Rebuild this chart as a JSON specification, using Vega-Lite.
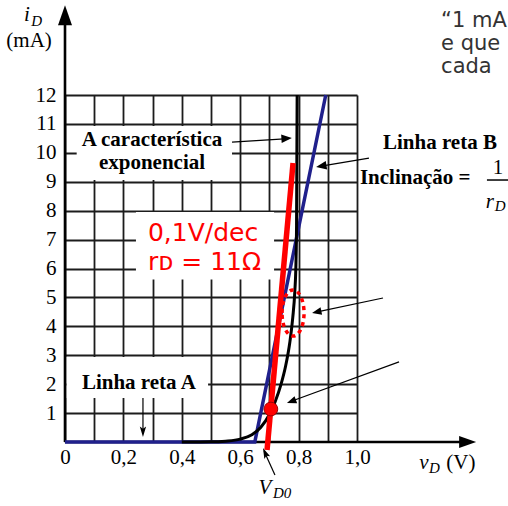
{
  "$schema": "https://vega.github.io/schema/vega-lite/v6.json",
  "width": 292,
  "height": 347,
  "autosize": {"type": "none"},
  "padding": {"left": 65, "top": 95, "right": 151, "bottom": 64},
  "background": "white",
  "config": {"view": {"stroke": null}},
  "encoding": {
    "x": {
      "field": "x", "type": "quantitative",
      "scale": {"domain": [0, 1], "nice": false, "zero": false},
      "axis": {
        "values": [0, 0.1, 0.2, 0.3, 0.4, 0.5, 0.6, 0.7, 0.8, 0.9, 1.0],
        "grid": true, "gridColor": "#1c1c1c", "gridWidth": 1.8,
        "domain": false, "ticks": false, "title": null,
        "labelExpr": "round(datum.value*10) % 2 != 0 ? '' : (datum.value == 0 ? '0' : replace(format(datum.value, '.1f'), '.', ','))",
        "labelFont": "Liberation Serif", "labelFontSize": 21, "labelColor": "#000",
        "labelPadding": 4, "labelFlush": false, "labelOverlap": false, "zindex": 0
      }
    },
    "y": {
      "field": "y", "type": "quantitative",
      "scale": {"domain": [0, 12], "nice": false, "zero": false},
      "axis": {
        "values": [1, 2, 3, 4, 5, 6, 7, 8, 9, 10, 11, 12],
        "grid": true, "gridColor": "#1c1c1c", "gridWidth": 1.8,
        "domain": false, "ticks": false, "title": null,
        "labelFont": "Liberation Serif", "labelFontSize": 21, "labelColor": "#000",
        "labelPadding": 9, "labelFlush": false, "labelOverlap": false, "zindex": 0
      }
    }
  },
  "layer": [
    {
      "data": {"values": [
        {"x": 0.04, "x2": 0.572, "y": 9.06, "y2": 10.93},
        {"x": 0.243, "x2": 0.716, "y": 5.62, "y2": 7.95},
        {"x": 0.005, "x2": 0.49, "y": 1.52, "y2": 2.94}
      ]},
      "mark": {"type": "rect", "fill": "white", "stroke": null},
      "encoding": {"x2": {"field": "x2"}, "y2": {"field": "y2"}}
    },
    {
      "data": {"values": [
        {"x": 0, "y": 0, "x2": 1.39, "y2": 0},
        {"x": 0, "y": 0, "x2": 0, "y2": 14.6}
      ]},
      "mark": {"type": "rule", "color": "#000", "strokeWidth": 2.6},
      "encoding": {"x2": {"field": "x2"}, "y2": {"field": "y2"}}
    },
    {
      "data": {"values": [{"x": 1.408, "y": 0}]},
      "mark": {"type": "point", "shape": "M0,0L-2,-0.7L-2,0.7Z", "size": 289, "filled": true, "color": "#000", "opacity": 1}
    },
    {
      "data": {"values": [{"x": 0, "y": 15.1}]},
      "mark": {"type": "point", "shape": "M0,0L-0.7,2L0.7,2Z", "size": 400, "filled": true, "color": "#000", "opacity": 1}
    },
    {
      "data": {"values": [
        {"x": 0, "y": 0}, {"x": 0.65, "y": 0}, {"x": 0.893, "y": 12}
      ]},
      "mark": {"type": "line", "color": "#20208c", "strokeWidth": 3.5}
    },
    {
      "data": {"values": [
        {"x": 0.4, "y": 0}, {"x": 0.5, "y": 0.005}, {"x": 0.55, "y": 0.03},
        {"x": 0.6, "y": 0.1}, {"x": 0.64, "y": 0.25}, {"x": 0.67, "y": 0.5},
        {"x": 0.7, "y": 0.95}, {"x": 0.72, "y": 1.4}, {"x": 0.74, "y": 2.0},
        {"x": 0.755, "y": 2.6}, {"x": 0.77, "y": 3.45}, {"x": 0.78, "y": 4.3},
        {"x": 0.787, "y": 5.2}, {"x": 0.791, "y": 6.2}, {"x": 0.793, "y": 7.5},
        {"x": 0.795, "y": 12}
      ]},
      "mark": {"type": "line", "color": "#000", "strokeWidth": 3, "interpolate": "monotone"}
    },
    {
      "data": {"values": [{"x": 0.692, "y": -0.28}, {"x": 0.781, "y": 9.65}]},
      "mark": {"type": "line", "color": "#ff0000", "strokeWidth": 5.5}
    },
    {
      "data": {"values": [{"x": 0.705, "y": 1.14}]},
      "mark": {"type": "point", "shape": "circle", "size": 190, "filled": true, "fill": "#ff0000", "stroke": "#9a0000", "strokeWidth": 1, "opacity": 1}
    },
    {
      "data": {"values": [{"x": 0.781, "y": 4.46}]},
      "mark": {"type": "point", "shape": "M-0.478,0A0.478,1,0,1,1,0.478,0A0.478,1,0,1,1,-0.478,0Z", "size": 2116, "filled": false, "stroke": "#ff0000", "strokeWidth": 3.5, "strokeDash": [4, 4], "opacity": 1}
    },
    {
      "data": {"values": [
        {"x": 0.572, "y": 10.37, "x2": 0.765, "y2": 10.49},
        {"x": 1.041, "y": 9.82, "x2": 0.872, "y2": 9.53},
        {"x": 0.267, "y": 1.52, "x2": 0.267, "y2": 0.3},
        {"x": 0.719, "y": -1.14, "x2": 0.682, "y2": -0.32},
        {"x": 1.089, "y": 4.98, "x2": 0.86, "y2": 4.49},
        {"x": 1.144, "y": 2.77, "x2": 0.775, "y2": 1.41}
      ]},
      "mark": {"type": "rule", "color": "#000", "strokeWidth": 1.2},
      "encoding": {"x2": {"field": "x2"}, "y2": {"field": "y2"}}
    },
    {
      "data": {"values": [{"x": 0.777, "y": 10.51}]},
      "mark": {"type": "point", "shape": "M0,0L-2,-0.8L-2,0.8Z", "size": 110, "filled": true, "color": "#000", "opacity": 1, "angle": -3.8}
    },
    {
      "data": {"values": [{"x": 0.860, "y": 9.51}]},
      "mark": {"type": "point", "shape": "M0,0L-2,-0.8L-2,0.8Z", "size": 110, "filled": true, "color": "#000", "opacity": 1, "angle": 170.4}
    },
    {
      "data": {"values": [{"x": 0.267, "y": 0.17}]},
      "mark": {"type": "point", "shape": "M0,0L-2,-0.6L-1.6,0L-2,0.6Z", "size": 110, "filled": true, "color": "#000", "opacity": 1, "angle": 90}
    },
    {
      "data": {"values": [{"x": 0.678, "y": -0.21}]},
      "mark": {"type": "point", "shape": "M0,0L-2,-0.6L-1.6,0L-2,0.6Z", "size": 110, "filled": true, "color": "#000", "opacity": 1, "angle": -114}
    },
    {
      "data": {"values": [{"x": 0.846, "y": 4.46}]},
      "mark": {"type": "point", "shape": "M0,0L-2,-0.8L-2,0.8Z", "size": 90, "filled": true, "color": "#000", "opacity": 1, "angle": 168.1}
    },
    {
      "data": {"values": [{"x": 0.760, "y": 1.35}]},
      "mark": {"type": "point", "shape": "M0,0L-2,-0.8L-2,0.8Z", "size": 90, "filled": true, "color": "#000", "opacity": 1, "angle": 159.9}
    },
    {
      "data": {"values": [{"x": 1.445, "y": 9.06, "x2": 1.52, "y2": 9.06}]},
      "mark": {"type": "rule", "color": "#000", "strokeWidth": 1.5},
      "encoding": {"x2": {"field": "x2"}, "y2": {"field": "y2"}}
    },
    {
      "data": {"values": [
        {"x": 0.298, "y": 10.45, "t": "A característica"},
        {"x": 0.298, "y": 9.65, "t": "exponencial"},
        {"x": 1.284, "y": 10.34, "t": "Linha reta B"},
        {"x": 0.253, "y": 2.04, "t": "Linha reta A"}
      ]},
      "mark": {"type": "text", "font": "Liberation Serif", "fontSize": 21, "fontWeight": "bold", "color": "#000", "align": "center", "baseline": "middle"},
      "encoding": {"text": {"field": "t"}}
    },
    {
      "data": {"values": [{"x": 1.010, "y": 9.13, "t": "Inclinação ="}]},
      "mark": {"type": "text", "font": "Liberation Serif", "fontSize": 21, "fontWeight": "bold", "color": "#000", "align": "left", "baseline": "middle"},
      "encoding": {"text": {"field": "t"}}
    },
    {
      "data": {"values": [
        {"x": 1.483, "y": 9.48, "t": "1"},
        {"x": -0.123, "y": 13.87, "t": "(mA)"},
        {"x": 1.356, "y": -0.73, "t": "(V)"}
      ]},
      "mark": {"type": "text", "font": "Liberation Serif", "fontSize": 21, "color": "#000", "align": "center", "baseline": "middle"},
      "encoding": {"text": {"field": "t"}}
    },
    {
      "data": {"values": [
        {"x": -0.130, "y": 14.77, "t": "i"},
        {"x": 1.455, "y": 8.30, "t": "r"},
        {"x": 0.685, "y": -1.59, "t": "V"},
        {"x": 1.229, "y": -0.73, "t": "v"}
      ]},
      "mark": {"type": "text", "font": "Liberation Serif", "fontSize": 21, "fontStyle": "italic", "color": "#000", "align": "center", "baseline": "middle"},
      "encoding": {"text": {"field": "t"}}
    },
    {
      "data": {"values": [
        {"x": -0.116, "y": 14.56, "t": "D"},
        {"x": 1.472, "y": 8.16, "t": "D"},
        {"x": 0.712, "y": -1.76, "t": "D0"},
        {"x": 1.247, "y": -0.90, "t": "D"}
      ]},
      "mark": {"type": "text", "font": "Liberation Serif", "fontSize": 15, "fontStyle": "italic", "color": "#000", "align": "left", "baseline": "middle"},
      "encoding": {"text": {"field": "t"}}
    },
    {
      "data": {"values": [
        {"x": 0.284, "y": 7.23, "t": "0,1V/dec"},
        {"x": 0.284, "y": 6.22, "t": "rᴅ = 11Ω"}
      ]},
      "mark": {"type": "text", "font": "DejaVu Sans", "fontSize": 25, "color": "#ff0000", "align": "left", "baseline": "middle"},
      "encoding": {"text": {"field": "t"}}
    },
    {
      "data": {"values": [
        {"x": 1.288, "y": 14.35, "t": "“1 mA"},
        {"x": 1.288, "y": 13.56, "t": "e que"},
        {"x": 1.288, "y": 12.77, "t": "cada"}
      ]},
      "mark": {"type": "text", "font": "DejaVu Sans", "fontSize": 21, "color": "#333333", "align": "left", "baseline": "alphabetic"},
      "encoding": {"text": {"field": "t"}}
    }
  ]
}
